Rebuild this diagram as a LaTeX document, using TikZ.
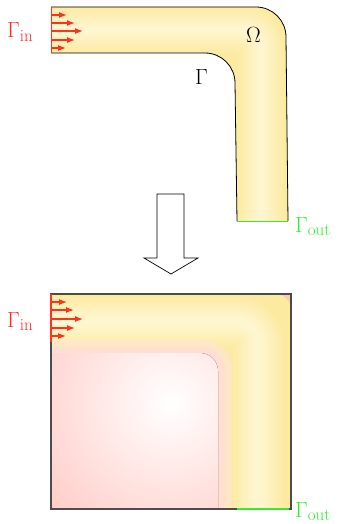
\RequirePackage{fix-cm}
\documentclass[tikz,border=0pt]{standalone}
\usetikzlibrary{arrows.meta}
\definecolor{ydeep}{RGB}{252,234,160}
\definecolor{ylight}{RGB}{255,249,222}
\definecolor{inred}{RGB}{255,50,30}
\definecolor{labred}{RGB}{255,45,45}
\definecolor{outgreen}{RGB}{50,235,50}
\definecolor{pinkdeep}{RGB}{255,160,150}
\definecolor{pinkcorner}{RGB}{253,200,180}
\newcommand\mysubtxt[1]{\mbox{\fontsize{17}{19}\selectfont #1}}
\begin{document}
\begin{tikzpicture}[x=1pt,y=-1pt,
  lab/.style={font=\fontsize{22}{26}\selectfont, inner sep=0pt, anchor=base west},
  inarrow/.style={inred, line width=1.1pt, -{Latex[length=8pt,width=6pt]}},
  band/.style={line join=round, line cap=butt}]
\useasboundingbox (0,0) rectangle (337,524);

% ---------- top domain ----------
\begin{scope}
  \clip (51,7) -- (256,7) arc (-90:0:30) -- (288,221) -- (237,221) -- (235,83) arc (0:-90:30) -- (51,53) -- cycle;
  \fill[ydeep] (40,0) rectangle (300,230);
  \foreach \w/\m in {46/10,40/20,34/30,28/40,22/50,16/60,10/70,4/78}
    \draw[band, line width=\w, ylight!\m!ydeep] (40,30) -- (246,30) arc (-90:0:15) -- (261,240);
\end{scope}
\draw[line width=0.8pt] (51,7) -- (256,7) arc (-90:0:30) -- (288,221);
\draw[line width=0.8pt] (237,221) -- (235,83) arc (0:-90:30) -- (51,53);
\draw[outgreen, line width=1pt] (237,221) -- (288,221);
\draw[inred, line width=1pt] (51,7) -- (51,53);
\coordinate (a1) at (51,15); \coordinate (b1) at (67,15);
\coordinate (a2) at (51,23); \coordinate (b2) at (75,23);
\coordinate (a3) at (51,31); \coordinate (b3) at (83,31);
\coordinate (a4) at (51,40); \coordinate (b4) at (75,40);
\coordinate (a5) at (51,48); \coordinate (b5) at (66,48);
\foreach \i in {1,...,5} \draw[inarrow] (a\i) -- (b\i);

\node[lab, text=labred] (gin1) at (7,38) {$\Gamma_{\mysubtxt{in}}$};
\node[lab] (omega) at (246,43) {$\Omega$};
\node[lab] (gamma) at (195,85) {$\Gamma$};
\node[lab, text=outgreen] (gout1) at (295,232) {$\Gamma_{\mysubtxt{out}}$};

% ---------- block arrow ----------
\draw[fill=white, line width=0.7pt] (157,194) -- (184,194) -- (184,258) -- (198,258) -- (171,274) -- (144,258) -- (157,258) -- cycle;

% ---------- bottom domain ----------
\begin{scope}
  \clip (51,294) rectangle (291,509);
  \fill[pinkcorner] (255,294) rectangle (291,330);
  \begin{scope}
    \clip[rounded corners=16] (-100,294) rectangle (291,800);
    \fill[ydeep] (51,294) rectangle (291,509);
  \end{scope}
  \foreach \w/\m in {50/10,44/20,38/30,32/40,26/50,20/60,14/70,6/78}
    \draw[band, line width=\w, ylight!\m!ydeep] (40,322) -- (238,322) arc (-90:0:20) -- (258,520);
  \fill[red!10, opacity=0.5] (51,509) -- (51,340) -- (204,340) arc (-90:0:28) -- (232,509) -- cycle;
  \fill[red!14, opacity=0.6] (51,509) -- (51,347) -- (202,347) arc (-90:0:23) -- (225,509) -- cycle;
  \begin{scope}
    \clip (51,509) -- (51,353) -- (200,353) arc (-90:0:18) -- (218,509) -- cycle;
    \fill[inner color=white, outer color=pinkdeep] (170,403) circle[radius=300];
  \end{scope}
\end{scope}
\draw[black!70, line width=1.2pt] (51,294) rectangle (291,509);
\draw[outgreen, line width=1.3pt] (237,509) -- (289,509);
\draw[inred, line width=1.2pt] (51,294) -- (51,342);
\coordinate (c1) at (51,302); \coordinate (d1) at (67,302);
\coordinate (c2) at (51,310); \coordinate (d2) at (74,310);
\coordinate (c3) at (51,319); \coordinate (d3) at (83,319);
\coordinate (c4) at (51,328); \coordinate (d4) at (75,328);
\coordinate (c5) at (51,336); \coordinate (d5) at (66,336);
\foreach \i in {1,...,5} \draw[inarrow] (c\i) -- (d\i);

\node[lab, text=labred] (gin2) at (7,327) {$\Gamma_{\mysubtxt{in}}$};
\node[lab, text=outgreen] (gout2) at (295,517) {$\Gamma_{\mysubtxt{out}}$};
\end{tikzpicture}
\end{document}
